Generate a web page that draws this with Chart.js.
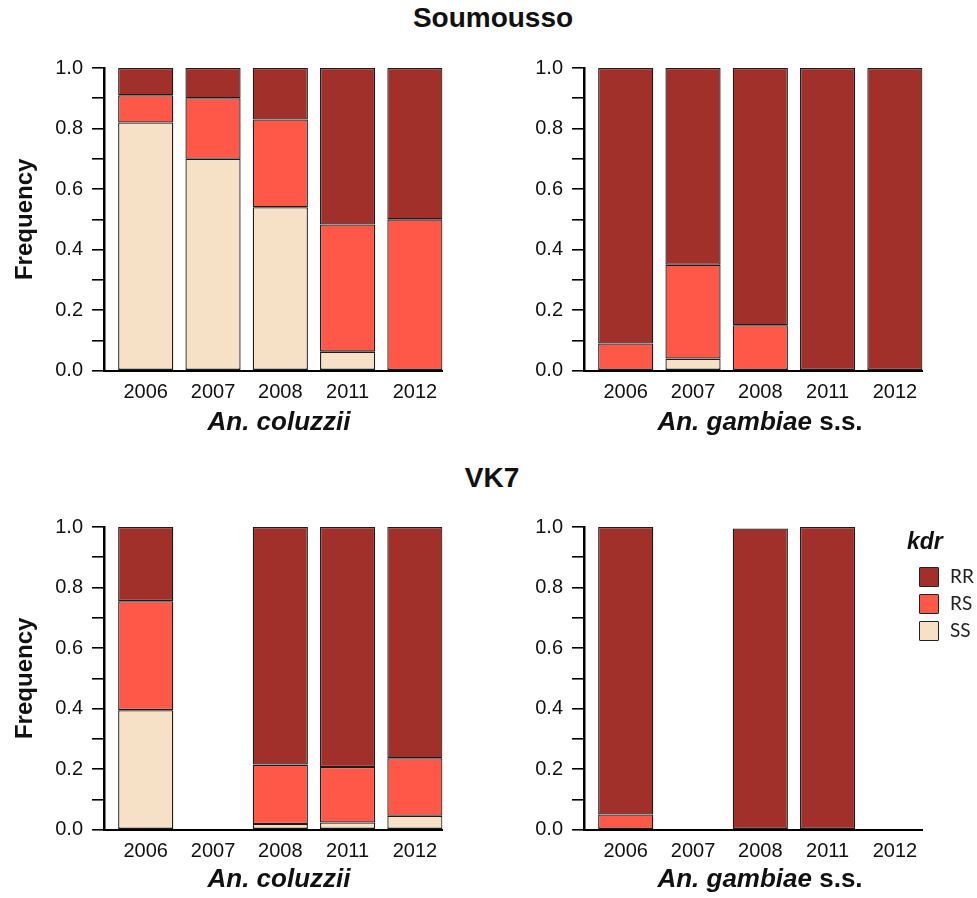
<!DOCTYPE html>
<html>
<head>
<meta charset="utf-8">
<title>kdr genotype frequencies – Soumousso and VK7</title>
<script src="https://cdn.jsdelivr.net/npm/chart.js@4.4.1/dist/chart.umd.min.js"></script>
<style>
  html, body { margin: 0; padding: 0; background: #fff; }
  body { width: 977px; height: 898px; position: relative; overflow: hidden;
         font-family: 'Liberation Sans', Arial, sans-serif; color: #111; }
  .panel { position: absolute; width: 480px; height: 400px; }
  .site { position: absolute; font-weight: bold; font-size: 28px; transform: translateX(-50%); white-space: nowrap; }
  .species { position: absolute; font-weight: bold; font-size: 26px; transform: translateX(-50%); white-space: nowrap; }
  .legend { position: absolute; left: 906px; top: 528px; }
  .legend .ttl { font-weight: bold; font-style: italic; font-size: 23px; margin-left: 1px; }
  .legend .row { position: absolute; left: 13px; width: 70px; height: 21px; }
  .legend .sw { position: absolute; left: 0; top: 0; width: 18px; height: 18px; border: 1.5px solid #222; border-radius: 1px; }
  .legend .lb { position: absolute; left: 31px; top: -3px; font-family: Lato, 'Open Sans', sans-serif; font-size: 19px; color: #222; }
</style>
</head>
<body>

<div class="site" style="left:493px; top:2px;">Soumousso</div>
<div class="site" style="left:492px; top:462px;">VK7</div>

<div class="panel" style="left:0; top:40px;"><canvas id="soumCol" width="480" height="400"></canvas></div>
<div class="panel" style="left:480px; top:40px;"><canvas id="soumGam" width="480" height="400"></canvas></div>
<div class="panel" style="left:0; top:499px;"><canvas id="vkCol" width="480" height="400"></canvas></div>
<div class="panel" style="left:480px; top:499px;"><canvas id="vkGam" width="480" height="400"></canvas></div>

<div class="species" style="left:279px; top:406px;"><i>An. coluzzii</i></div>
<div class="species" style="left:760px; top:406px;"><i>An. gambiae</i> s.s.</div>
<div class="species" style="left:279px; top:863px;"><i>An. coluzzii</i></div>
<div class="species" style="left:760px; top:863px;"><i>An. gambiae</i> s.s.</div>

<div class="legend" id="legend"><div class="ttl">kdr</div></div>

<script>
// Sampling years (x categories)
const years = ['2006', '2007', '2008', '2011', '2012'];
const genotypes = ['SS', 'RS', 'RR'];

// Soumousso – An. coluzzii
const soumColSS = [0.82, 0.70, 0.54, 0.063, 0];
const soumColRS = [0.09, 0.20, 0.29, 0.42, 0.50];
const soumColRR = [0.09, 0.10, 0.17, 0.517, 0.50];

// Soumousso – An. gambiae s.s.
const soumGamSS = [0, 0.04, 0, 0, 0];
const soumGamRS = [0.09, 0.31, 0.15, 0, 0];
const soumGamRR = [0.91, 0.65, 0.85, 1.0, 1.0];

// VK7 – An. coluzzii (no sample in 2007)
const vkColSS = [0.395, null, 0.019, 0.024, 0.046];
const vkColRS = [0.36, null, 0.196, 0.183, 0.19];
const vkColRR = [0.245, null, 0.785, 0.793, 0.764];

// VK7 – An. gambiae s.s. (no sample in 2007 and 2012)
const vkGamSS = [0, null, 0, 0, null];
const vkGamRS = [0.05, null, 0, 0, null];
const vkGamRR = [0.95, null, 0.995, 1.0, null];

// Frequency axis ticks (every 0.1, labelled every 0.2)
const yTickLabels = ['0.0', '0.2', '0.4', '0.6', '0.8', '1.0'];

const genotypeColors = { SS: '#F6E1C6', RS: '#FF5849', RR: '#A1302A' };

Chart.defaults.font.family = "'Liberation Sans', Arial, sans-serif";
Chart.defaults.color = '#111';

function makePanel(id, ss, rs, rr, showYTitle) {
  const series = { SS: ss, RS: rs, RR: rr };
  const datasets = genotypes.map(g => ({
    label: g,
    data: series[g].map((v, i) => ({ x: i, y: v })),
    backgroundColor: genotypeColors[g],
    borderColor: '#1c1c1c',
    borderWidth: 1.3,
    borderSkipped: false,
    barPercentage: 0.82,
    categoryPercentage: 1.0
  }));

  return new Chart(document.getElementById(id), {
    type: 'bar',
    data: { datasets },
    options: {
      responsive: false,
      animation: false,
      layout: { padding: { top: 28, right: 37.5, bottom: 0, left: 0 } },
      plugins: { legend: { display: false }, tooltip: { enabled: false } },
      scales: {
        x: {
          type: 'linear',
          stacked: true,
          offset: false,
          min: -0.62,
          max: 4.41,
          // one tick per sampling year
          afterBuildTicks: (scale) => {
            scale.ticks = years.map((_, i) => ({ value: i }));
          },
          afterFit: (scale) => { scale.height = 69.3; },
          grid: { display: false, drawTicks: false },
          border: { display: true, color: '#000', width: 2 },
          ticks: {
            padding: 10,
            maxRotation: 0,
            autoSkip: false,
            font: { size: 20 },
            color: '#111',
            callback: (v) => years[v] ?? ''
          }
        },
        y: {
          stacked: true,
          min: 0,
          max: 1,
          afterFit: (scale) => { scale.width = 104; },
          grid: { display: true, drawOnChartArea: false, drawTicks: true, tickLength: 12, color: '#000', lineWidth: 1.6 },
          border: { display: true, color: '#000', width: 2.5 },
          ticks: {
            stepSize: 0.1,
            padding: 9,
            font: { size: 20 },
            color: '#111',
            callback: (v) => {
              const k = Math.round(v * 10);
              return k % 2 === 0 ? yTickLabels[k / 2] : '';
            }
          },
          title: {
            display: showYTitle,
            text: 'Frequency',
            font: { size: 24, weight: 'bold' },
            color: '#111',
            padding: { top: 11, bottom: 0 }
          }
        }
      }
    }
  });
}

makePanel('soumCol', soumColSS, soumColRS, soumColRR, true);
makePanel('soumGam', soumGamSS, soumGamRS, soumGamRR, false);
makePanel('vkCol', vkColSS, vkColRS, vkColRR, true);
makePanel('vkGam', vkGamSS, vkGamRS, vkGamRR, false);

// Genotype key, listed from top of stack downwards
const legend = document.getElementById('legend');
genotypes.slice().reverse().forEach((g, i) => {
  const row = document.createElement('div');
  row.className = 'row';
  row.style.top = (39 + i * 26.8) + 'px';
  row.innerHTML = '<div class="sw" style="background:' + genotypeColors[g] + '"></div><div class="lb">' + g + '</div>';
  legend.appendChild(row);
});
</script>
</body>
</html>
